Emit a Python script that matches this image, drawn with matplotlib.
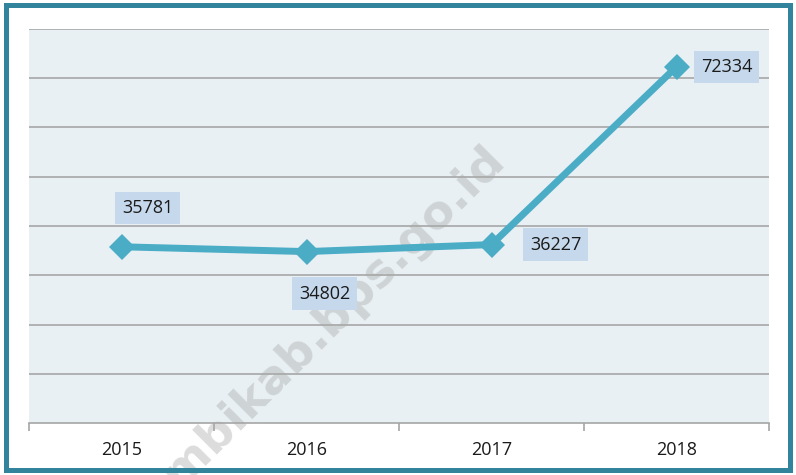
import matplotlib
matplotlib.use("Agg")
import matplotlib.pyplot as plt
from matplotlib.patches import Rectangle

years = ["2015", "2016", "2017", "2018"]
values = [35781, 34802, 36227, 72334]
# label offsets in pixels (dx, dy) relative to each point
label_offsets = [(26, 39), (18, -42), (64, 0), (50, 0)]

W, H = 796, 475
fig = plt.figure(figsize=(W / 100, H / 100), dpi=100)
fig.patch.set_facecolor("white")

ax = fig.add_axes([29 / W, (H - 423) / H, 740 / W, 394 / H])
ax.set_facecolor("#E8F0F4")
x = list(range(len(years)))
ax.set_xlim(-0.5, len(years) - 0.5)
ax.set_ylim(0, 80000)
ax.set_yticks(range(10000, 80001, 10000))
ax.yaxis.grid(True, color="#A6A6A6", linewidth=1.2, zorder=1)
ax.set_axisbelow(True)
ax.tick_params(axis="y", length=0, labelleft=False)
for s in ["top", "right", "left"]:
    ax.spines[s].set_visible(False)
ax.spines["bottom"].set_color("#A6A6A6")
ax.spines["bottom"].set_linewidth(1.2)
ax.set_xticks(x)
ax.set_xticklabels(years, fontsize=13, color="#1a1a1a", family="Open Sans")
ax.tick_params(axis="x", length=0, pad=13)
ax.set_xticks([i - 0.5 for i in range(len(years) + 1)], minor=True)
ax.tick_params(axis="x", which="minor", length=6, color="#A6A6A6", width=1.2, direction="out")

# watermark
ax.text(0.406, 0.306, "ambikab.bps.go.id", transform=fig.transFigure, rotation=45,
        fontsize=34, fontweight="bold", color="#A8A8A8", alpha=0.4,
        ha="center", va="center", clip_on=False, zorder=2)

ax.plot(x, values, color="#4BACC6", linewidth=5, marker="D", markersize=13,
        markeredgewidth=0, zorder=3, solid_capstyle="butt")

for xi, v, (dx, dy) in zip(x, values, label_offsets):
    ax.annotate(str(v), (xi, v), xytext=(dx * 0.72, dy * 0.72), textcoords="offset points",
                ha="center", va="center", fontsize=13, color="#1a1a1a", family="Open Sans",
                bbox=dict(boxstyle="square,pad=0.4", facecolor="#C6D9EC", edgecolor="none"),
                zorder=4)

fig.add_artist(Rectangle((6 / W, 5 / H), (W - 12) / W, (H - 10) / H, transform=fig.transFigure,
                         fill=False, edgecolor="#31849B", linewidth=3.6))

fig.savefig("out.png", dpi=100)
